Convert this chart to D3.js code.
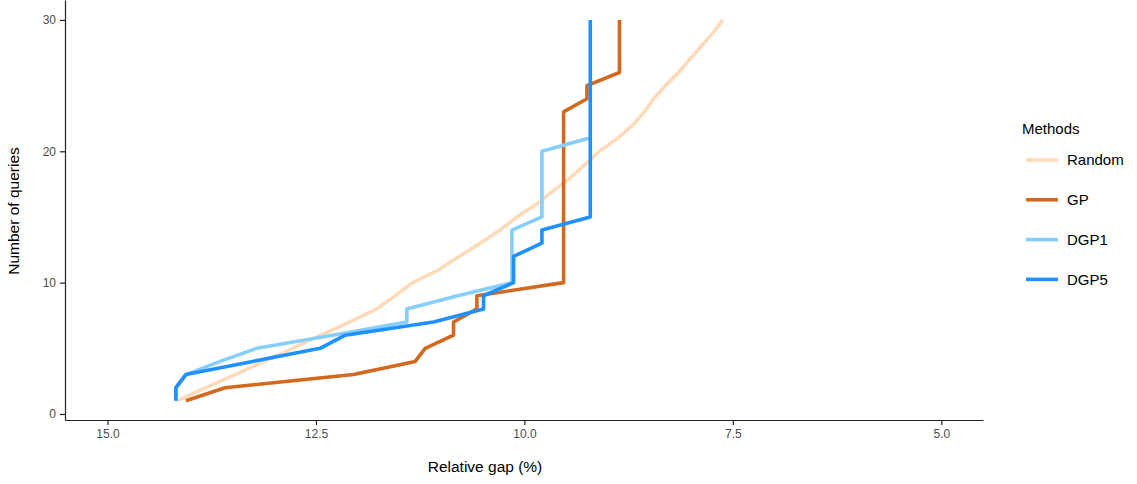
<!DOCTYPE html>
<html>
<head>
<meta charset="utf-8">
<script src="https://cdn.jsdelivr.net/npm/d3@7.9.0/dist/d3.min.js"></script>
<style>
  body { margin: 0; background: #fff; }
  svg { display: block; font-family: "Liberation Sans", Arial, sans-serif; }
  .tick text { fill: #4d4d4d; font-size: 12px; }
  .tick line, .domain { stroke: #222; stroke-width: 1.2px; }
</style>
</head>
<body>
<svg id="chart" width="1137" height="484"></svg>
<script>
// number of queries (y) for every step
const queries = [1, 2, 3, 4, 5, 6, 7, 8, 9, 10, 11, 12, 13, 14, 15,
  16, 17, 18, 19, 20, 21, 22, 23, 24, 25, 26, 27, 28, 29, 30];

// relative gap (%) reached after each query
const randomGap = [14.17, 13.82, 13.47, 13.12, 12.78, 12.44, 12.1, 11.77, 11.55, 11.34,
  11.02, 10.78, 10.53, 10.29, 10.09, 9.85, 9.65, 9.45, 9.27, 9.1,
  8.88, 8.7, 8.56, 8.45, 8.31, 8.15, 8.02, 7.88, 7.74, 7.62];
const gpGap = [14.06, 13.59, 12.05, 11.31, 11.19, 10.85, 10.85, 10.57, 10.57, 9.53,
  9.53, 9.53, 9.53, 9.53, 9.53, 9.53, 9.53, 9.53, 9.53, 9.53,
  9.53, 9.53, 9.53, 9.25, 9.25, 8.86, 8.86, 8.86, 8.86, 8.86];
const dgp1Gap = [14.18, 14.18, 14.06, 13.65, 13.21, 12.3, 11.41, 11.41, 10.8, 10.15,
  10.15, 10.15, 10.15, 10.15, 9.79, 9.79, 9.79, 9.79, 9.79, 9.79, 9.23];
const dgp5Gap = [14.18, 14.18, 14.06, 13.26, 12.45, 12.15, 11.09, 10.49, 10.49, 10.13,
  10.13, 10.13, 9.79, 9.79, 9.21, 9.21, 9.21, 9.21, 9.21, 9.21,
  9.21, 9.21, 9.21, 9.21, 9.21, 9.21, 9.21, 9.21, 9.21, 9.21];

const methods = ['Random', 'GP', 'DGP1', 'DGP5'];
const methodColors = ['peachpuff', 'chocolate', 'lightskyblue', 'dodgerblue'];
const xTicks = [15, 12.5, 10, 7.5, 5];
const yTicks = [0, 10, 20, 30];

const series = [randomGap, gpGap, dgp1Gap, dgp5Gap].map((gaps, i) => ({
  name: methods[i],
  color: methodColors[i],
  points: gaps.map((g, j) => ({ gap: g, q: queries[j] }))
}));

const svg = d3.select('#chart');

const x = d3.scaleLinear().domain([15.51, 4.5]).range([65, 983]);
const y = d3.scaleLinear().domain([-0.46, 31.52]).range([420, 0]);

// axes
svg.append('g')
  .attr('transform', 'translate(0,420)')
  .call(d3.axisBottom(x).tickValues(xTicks).tickFormat(d3.format('.1f'))
    .tickSize(5).tickSizeOuter(0).tickPadding(4));

svg.append('g')
  .attr('transform', 'translate(65,0)')
  .call(d3.axisLeft(y).tickValues(yTicks).tickSize(5).tickSizeOuter(0).tickPadding(4));

// lines
const line = d3.line()
  .x((d) => x(d.gap))
  .y((d) => y(d.q));

series.forEach((s) => {
  svg.append('path')
    .datum(s.points)
    .attr('d', line)
    .attr('fill', 'none')
    .attr('stroke', s.color)
    .attr('stroke-width', 3.6)
    .attr('stroke-linejoin', 'round');
});

// axis titles
svg.append('text')
  .attr('x', 485)
  .attr('y', 472)
  .attr('text-anchor', 'middle')
  .style('font-size', '15.5px')
  .text('Relative gap (%)');

svg.append('text')
  .attr('transform', 'translate(19,211) rotate(-90)')
  .attr('text-anchor', 'middle')
  .style('font-size', '15.5px')
  .text('Number of queries');

// legend
const legend = svg.append('g').attr('transform', 'translate(1022,0)');
legend.append('text')
  .attr('x', 0)
  .attr('y', 134)
  .style('font-size', '15px')
  .text('Methods');

series.forEach((s, i) => {
  const cy = 160 + i * 39.8;
  legend.append('line')
    .attr('x1', 4).attr('x2', 36)
    .attr('y1', cy).attr('y2', cy)
    .attr('stroke', s.color)
    .attr('stroke-width', 3.6);
  legend.append('text')
    .attr('x', 45)
    .attr('y', cy)
    .attr('dy', '0.36em')
    .style('font-size', '15px')
    .text(s.name);
});
</script>
</body>
</html>
